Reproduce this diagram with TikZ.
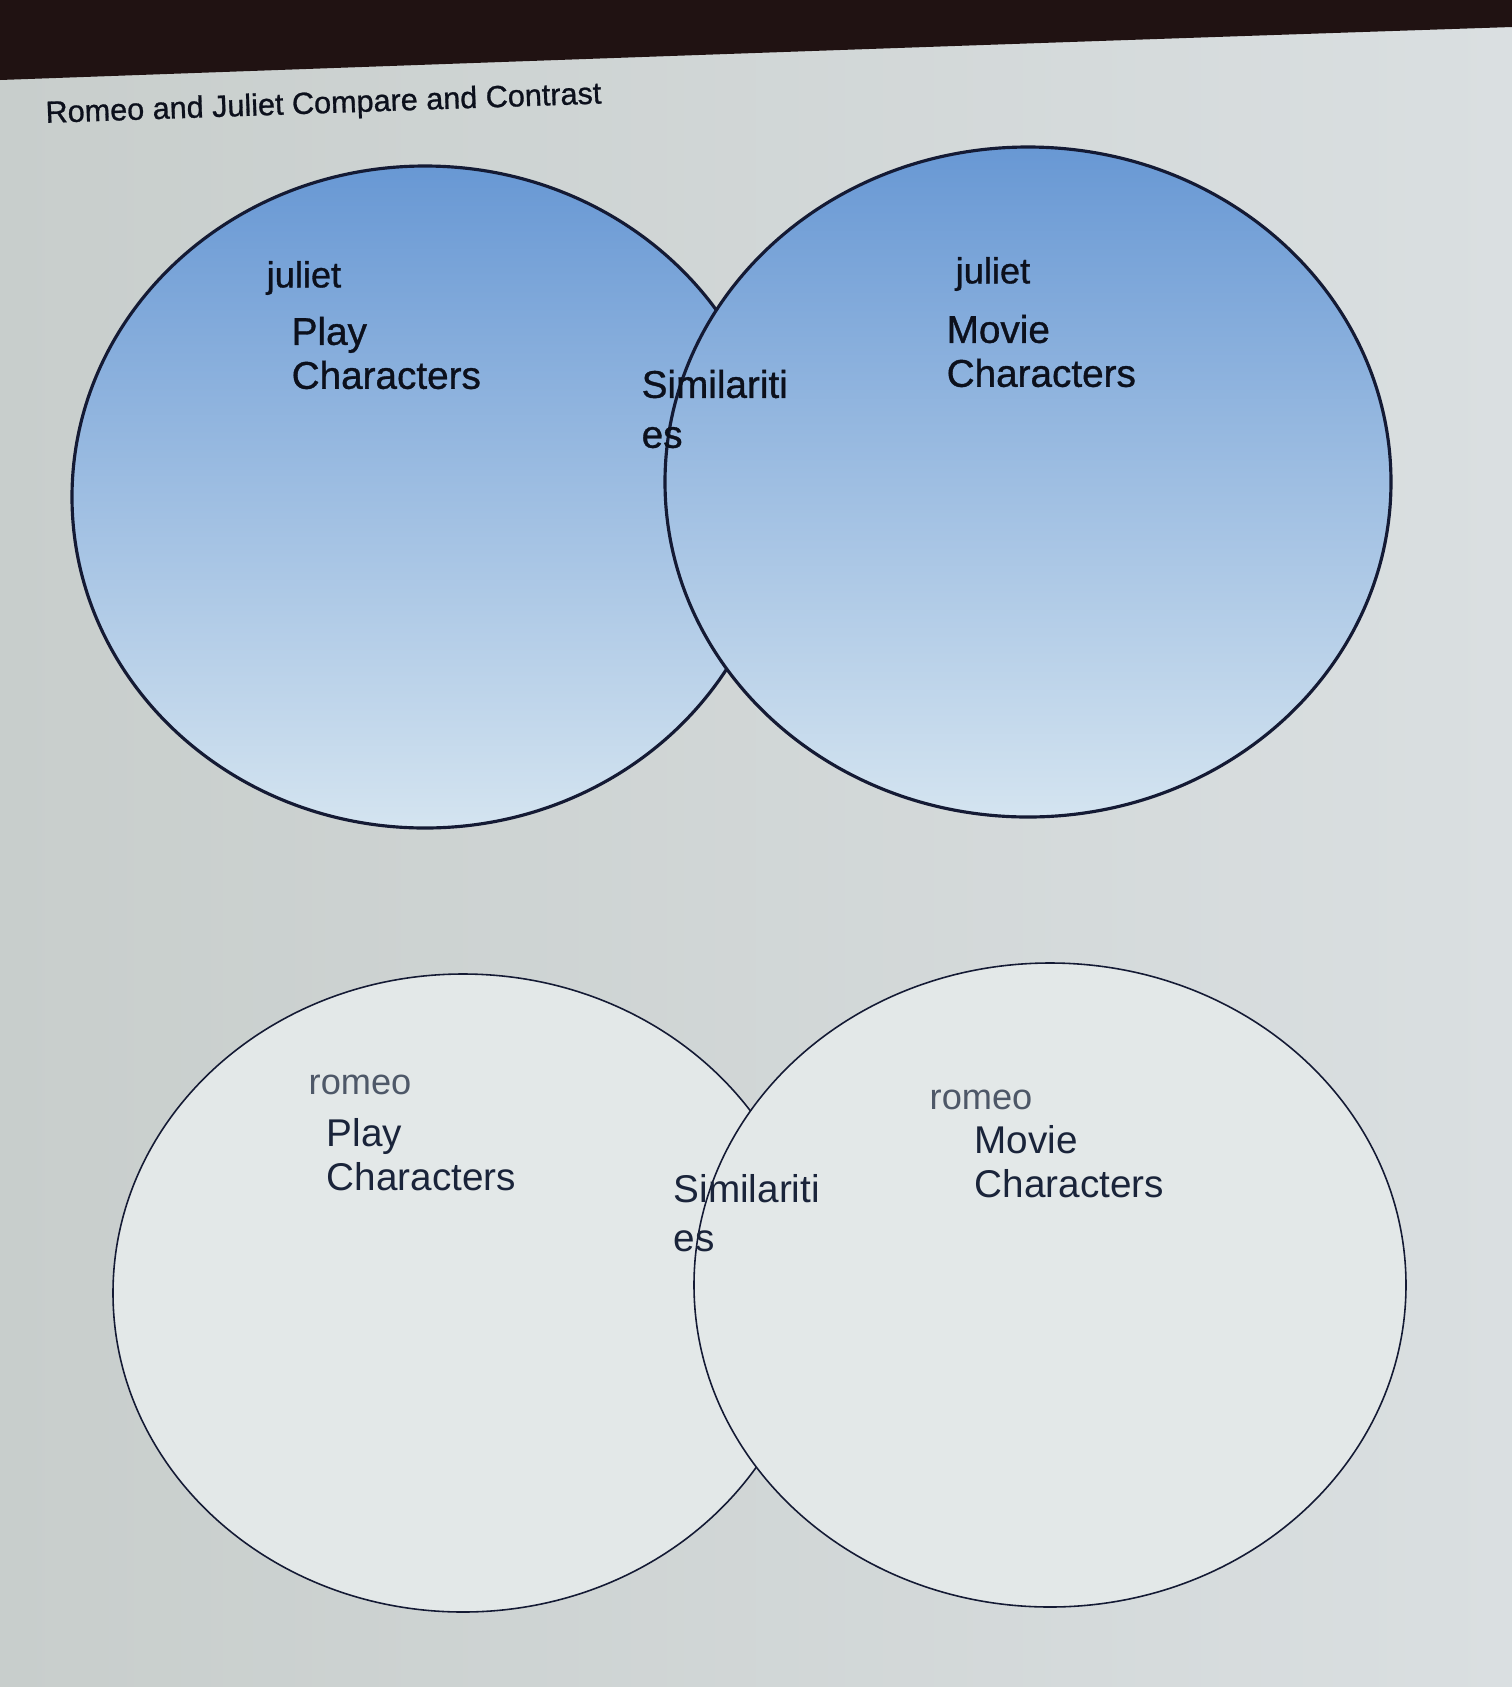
\documentclass[tikz,border=0pt]{standalone}
\usepackage{fontspec}
\setmainfont{Liberation Sans}
\newfontfamily\screenfont{Liberation Sans}[FakeBold=0.9]
\usepackage{tikz}
\usetikzlibrary{positioning}
\definecolor{band}{RGB}{32,18,18}
\definecolor{bgedge}{RGB}{200,206,204}
\definecolor{bgmid}{RGB}{233,237,238}
\definecolor{bgright}{RGB}{218,223,225}
\definecolor{venntop}{RGB}{104,152,212}
\definecolor{vennmid}{RGB}{172,204,232}
\definecolor{vennbottom}{RGB}{212,228,240}
\definecolor{vennpale}{RGB}{227,232,232}
\definecolor{vennline}{RGB}{20,26,52}
\definecolor{inktop}{RGB}{12,16,28}
\definecolor{inkbottom}{RGB}{26,36,58}
\definecolor{inkname}{RGB}{78,88,104}
\tikzset{
    title text/.style={
        anchor=west,inner sep=0pt,
        font=\screenfont\fontsize{8.7}{11}\selectfont,
        text=inktop
    },
    venn text/.style={
        anchor=west,inner sep=0pt,align=left,
        font=\fontsize{11}{12.5}\selectfont
    },
    name text/.style={
        anchor=west,inner sep=0pt,
        font=\fontsize{10.3}{12}\selectfont
    },
    top venn/.style={
        draw=vennline,line width=0.9pt,
        top color=venntop,middle color=vennmid,bottom color=vennbottom
    },
    bottom venn/.style={
        draw=vennline,line width=0.45pt,
        fill=vennpale
    }
}
\begin{document}
\begin{tikzpicture}[x=0.01cm,y=-0.01cm]
\useasboundingbox (0,0) rectangle (1512,1687);
\shade[left color=bgedge,middle color=bgmid,right color=bgright] (0,0) rectangle (1512,1687);
\fill[band] (0,0) -- (1512,0) -- (1512,27) .. controls (1000,44) and (500,62) .. (0,80) -- cycle;
\node[title text,rotate=2] (title) at (45,115) {Romeo and Juliet Compare and Contrast};
\foreach \cx/\cy/\rx/\ry in {425/497/353/331,1028/482/363/335}
    \draw[top venn] (\cx,\cy) ellipse [x radius=\rx,y radius=\ry];
\foreach \cx/\cy/\rx/\ry in {463/1293/350/319,1050/1285/356/322}
    \draw[bottom venn] (\cx,\cy) ellipse [x radius=\rx,y radius=\ry];
\node[name text,text=inktop,font=\screenfont\fontsize{10.3}{12}\selectfont] (juliet_play) at (266,278) {juliet};
\node[venn text,text=inktop,font=\screenfont\fontsize{11}{12.5}\selectfont] (play_top) at (291,353) {Play\\Characters};
\node[venn text,text=inktop,font=\screenfont\fontsize{11}{14.2}\selectfont] (similar_top) at (641,409) {Similariti\\es};
\node[name text,text=inktop,font=\screenfont\fontsize{10.3}{12}\selectfont] (juliet_movie) at (955,274) {juliet};
\node[venn text,text=inktop,font=\screenfont\fontsize{11}{12.5}\selectfont] (movie_top) at (946,351) {Movie\\Characters};
\node[name text,text=inkname] (romeo_play) at (308,1085) {romeo};
\node[venn text,text=inkbottom] (play_bottom) at (326,1155) {Play\\Characters};
\node[venn text,text=inkbottom,font=\fontsize{11}{14}\selectfont] (similar_bottom) at (673,1213) {Similariti\\es};
\node[name text,text=inkname] (romeo_movie) at (929,1100) {romeo};
\node[venn text,text=inkbottom] (movie_bottom) at (974,1162) {Movie\\Characters};
\end{tikzpicture}
\end{document}
